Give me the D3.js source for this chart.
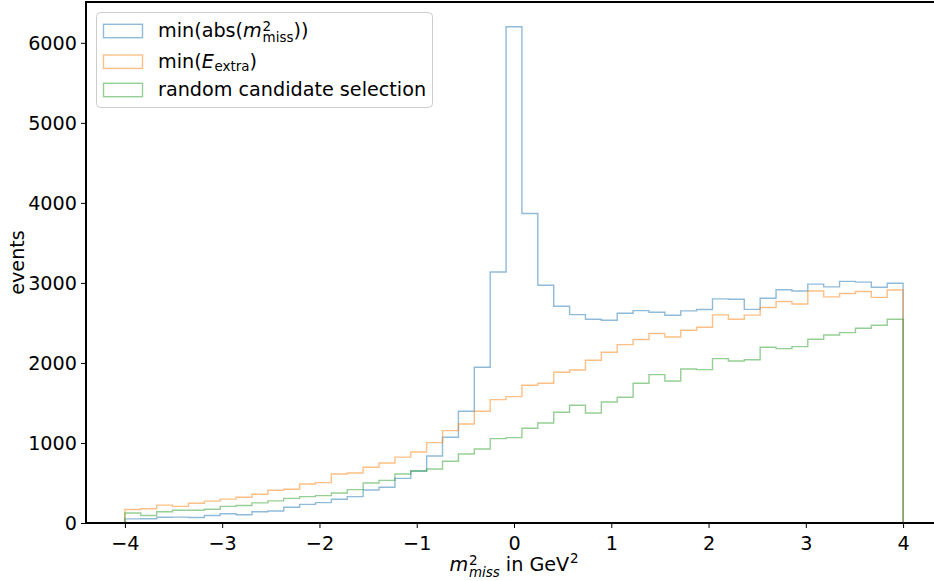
<!DOCTYPE html>
<html>
<head>
<meta charset="utf-8">
<script src="https://cdn.jsdelivr.net/npm/d3@7"></script>
<style>
  body { margin: 0; background: #fff; }
  svg { display: block; }
  text { font-family: "DejaVu Sans", sans-serif; }
</style>
</head>
<body>
<svg id="chart" width="934" height="581"></svg>
<script>
// Histogram binning: 49 equal bins over [-4, 4] GeV^2
const histRange = [-4, 4];
const binCount = 49;

// Event counts per bin for each candidate-selection strategy
const minAbsM2Miss = [
  52, 54, 71, 73, 69, 94, 115, 104, 140, 150,
  196, 233, 254, 296, 329, 412, 446, 558, 650, 837,
  1071, 1396, 1946, 3137, 6200, 3867, 2970, 2708, 2604, 2546,
  2533, 2621, 2654, 2633, 2596, 2650, 2667, 2800, 2796, 2669,
  2808, 2914, 2898, 2985, 2950, 3019, 3010, 2946, 2996
];
const minEExtra = [
  168, 179, 223, 208, 246, 273, 298, 321, 360, 410,
  421, 487, 504, 612, 625, 696, 750, 823, 887, 1004,
  1154, 1237, 1396, 1542, 1579, 1721, 1746, 1883, 1912, 2033,
  2133, 2229, 2292, 2367, 2325, 2408, 2446, 2600, 2546, 2598,
  2692, 2767, 2736, 2898, 2825, 2867, 2892, 2819, 2912
];
const randomSelection = [
  125, 94, 140, 160, 160, 171, 208, 219, 252, 277,
  308, 329, 342, 375, 417, 500, 533, 612, 650, 675,
  771, 862, 925, 1054, 1067, 1183, 1250, 1383, 1471, 1375,
  1512, 1571, 1746, 1854, 1775, 1925, 1917, 2054, 2025, 2040,
  2196, 2179, 2204, 2296, 2350, 2379, 2433, 2471, 2546
];

const seriesColors = ["#1f77b4", "#ff7f0e", "#2ca02c"];

// Legend labels as rich-text runs (italic math symbols, sub/superscripts)
const seriesLabels = [
  [{ t: "min(abs(" }, { t: "m", it: true }, { t: "2", sup: true, raise: 0.3 },
   { t: "miss", sub: true, stack: true, drop: 0.28 }, { t: "))" }],
  [{ t: "min(" }, { t: "E", it: true }, { t: "extra", sub: true, drop: 0.2 }, { t: ")" }],
  [{ t: "random candidate selection" }]
];

const xTicks = [-4, -3, -2, -1, 0, 1, 2, 3, 4];
const yTicks = [0, 1000, 2000, 3000, 4000, 5000, 6000];

const xLabel = [
  { t: "m", it: true }, { t: "2", sup: true, raise: 0.32 },
  { t: "miss", sub: true, stack: true, it: true, drop: 0.3 },
  { t: "\u00a0in GeV" }, { t: "2", sup: true, raise: 0.4 }
];
const yLabel = "events";

// ---- layout ----
const FONT = 19.2;
const plot = { left: 86, right: 942, top: 2, bottom: 523 };

const svg = d3.select("#chart");

const x = d3.scaleLinear().domain([-4.4, 4.4]).range([plot.left, plot.right]);
const y = d3.scaleLinear().domain([0, 6510]).range([plot.bottom, plot.top]);

const binWidth = (histRange[1] - histRange[0]) / binCount;
const edges = d3.range(binCount + 1).map(i => histRange[0] + i * binWidth);

// Step outline of a histogram: up from the baseline, across each bin, back down
function stepPoints(counts) {
  const pts = [[edges[0], 0]];
  counts.forEach((c, i) => pts.push([edges[i], c]));
  pts.push([edges[binCount], counts[binCount - 1]]);
  pts.push([edges[binCount], 0]);
  return pts;
}

const line = d3.line()
  .x(d => x(d[0]))
  .y(d => y(d[1]))
  .curve(d3.curveStepAfter);

const allSeries = [minAbsM2Miss, minEExtra, randomSelection];

svg.append("g").attr("class", "hists")
  .selectAll("path")
  .data(allSeries)
  .join("path")
  .attr("d", d => line(stepPoints(d)))
  .attr("fill", "none")
  .attr("stroke", (d, i) => seriesColors[i])
  .attr("stroke-opacity", 0.5)
  .attr("stroke-width", 1.4);

// ---- axes ----
const fmt = d => d < 0 ? "\u2212" + Math.abs(d) : String(d);

const xAxis = svg.append("g")
  .attr("transform", `translate(0,${plot.bottom})`)
  .call(d3.axisBottom(x).tickValues(xTicks).tickFormat(fmt).tickSize(5).tickPadding(5));
xAxis.select(".domain").remove();
xAxis.selectAll(".tick line").attr("stroke", "#000").attr("stroke-width", 1);
xAxis.selectAll(".tick text")
  .attr("y", 27).attr("dy", 0)
  .style("font-size", FONT + "px").attr("fill", "#000");

const yAxis = svg.append("g")
  .attr("transform", `translate(${plot.left},0)`)
  .call(d3.axisLeft(y).tickValues(yTicks).tickFormat(fmt).tickSize(5).tickPadding(4));
yAxis.select(".domain").remove();
yAxis.selectAll(".tick line").attr("stroke", "#000").attr("stroke-width", 1);
yAxis.selectAll(".tick text")
  .attr("dy", "0.36em")
  .style("font-size", FONT + "px").attr("fill", "#000");

// spines
svg.append("rect")
  .attr("x", plot.left).attr("y", plot.top)
  .attr("width", plot.right - plot.left).attr("height", plot.bottom - plot.top)
  .attr("fill", "none").attr("stroke", "#000").attr("stroke-width", 1.1)
  .attr("shape-rendering", "crispEdges");

// ---- rich text helper: one <text> with positioned tspans ----
function measure(str, fs, italic) {
  const t = svg.append("text")
    .style("font-size", fs + "px")
    .style("font-style", italic ? "italic" : "normal")
    .text(str);
  const w = t.node().getComputedTextLength();
  t.remove();
  return w;
}

function richText(parent, px, py, parts, size) {
  let cursor = 0, scriptStart = 0;
  const runs = parts.map(p => {
    const scripted = p.sup || p.sub;
    const fs = scripted ? size * 0.7 : size;
    const shift = p.sup ? -(p.raise || 0.3) * size : p.sub ? (p.drop || 0.2) * size : 0;
    const start = p.stack ? scriptStart : cursor + (scripted && !p.stack ? 0.8 : 0);
    const w = measure(p.t, fs, p.it);
    if (!p.stack) scriptStart = start;
    cursor = Math.max(cursor, start + w);
    return { ...p, fs, shift, start };
  });
  const text = parent.append("text")
    .attr("transform", `translate(${px},${py})`)
    .attr("fill", "#000");
  runs.forEach(r => {
    text.append("tspan")
      .attr("x", r.start).attr("y", r.shift)
      .style("font-size", r.fs + "px")
      .style("font-style", r.it ? "italic" : "normal")
      .text(r.t);
  });
  return { node: text, width: cursor };
}

// x-axis label, centred under the axes
const xl = richText(svg, 0, 0, xLabel, FONT);
const xMid = (plot.left + plot.right) / 2;
xl.node.attr("transform", `translate(${xMid - xl.width / 2},571)`);

// y-axis label
svg.append("text")
  .attr("transform", `translate(24,${(plot.top + plot.bottom) / 2}) rotate(-90)`)
  .attr("text-anchor", "middle")
  .style("font-size", FONT + "px")
  .attr("fill", "#000")
  .text(yLabel);

// ---- legend ----
const legend = svg.append("g").attr("class", "legend");
legend.append("rect")
  .attr("x", 96.5).attr("y", 12.5)
  .attr("width", 336).attr("height", 95)
  .attr("rx", 4).attr("ry", 4)
  .attr("fill", "#fff").attr("fill-opacity", 0.8)
  .attr("stroke", "#cccccc").attr("stroke-width", 1);

const rowCenters = [31, 61.7, 90];
seriesLabels.forEach((parts, i) => {
  const cy = rowCenters[i];
  legend.append("rect")
    .attr("x", 103.5).attr("y", cy - 6.7)
    .attr("width", 39).attr("height", 13.4)
    .attr("fill", "none")
    .attr("stroke", seriesColors[i]).attr("stroke-opacity", 0.5)
    .attr("stroke-width", 1.4);
  richText(legend, 158, cy + 5.8, parts, FONT);
});
</script>
</body>
</html>
